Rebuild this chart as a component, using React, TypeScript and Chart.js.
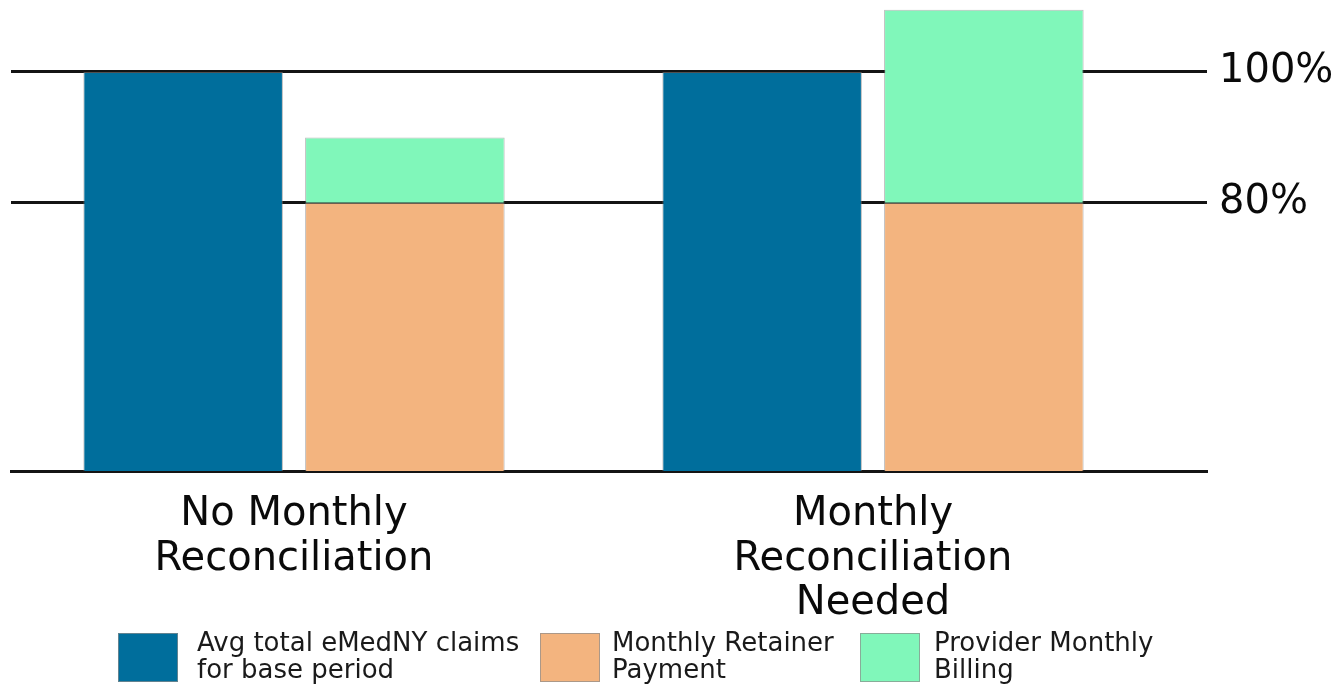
import { useEffect, useRef } from 'react';
import { Chart, registerables } from 'chart.js';

Chart.register(...registerables);

// ---- data ----
const categories: string[][] = [
  ['No Monthly', 'Reconciliation'],
  ['Monthly', 'Reconciliation', 'Needed'],
];
const categoryIndex = [0, 1];
const seriesNames: string[][] = [
  ['Avg total eMedNY claims', 'for base period'],
  ['Monthly Retainer', 'Payment'],
  ['Provider Monthly', 'Billing'],
];
const avgClaims = [100, 100];
const retainerPayment = [80, 80];
const providerBilling = [10, 29.5];
const yTickValues = [80, 100];
const yTickLabels = ['80%', '100%'];

// ---- styles ----
const FONT = '"DejaVu Sans", Verdana, sans-serif';
const BLUE = '#006E9C';
const ORANGE = '#F3B47F';
const GREEN = '#80F7BA';
const LINE = '#141414';

const legendX = [118, 540, 860];
const legendTextGap = [19, 12, 14];

const legendPlugin = {
  id: 'customLegend',
  afterDraw(chart: any) {
    const ctx = chart.ctx as CanvasRenderingContext2D;
    ctx.save();
    chart.data.datasets.forEach((ds: any, i: number) => {
      const x = legendX[i];
      const y = 633;
      ctx.fillStyle = ds.backgroundColor;
      ctx.fillRect(x, y, 60, 49);
      ctx.strokeStyle = 'rgba(140,140,140,0.7)';
      ctx.lineWidth = 1;
      ctx.strokeRect(x + 0.5, y + 0.5, 59, 48);
      ctx.fillStyle = '#1a1a1a';
      ctx.font = `26px ${FONT}`;
      ctx.textAlign = 'left';
      ctx.textBaseline = 'middle';
      seriesNames[i].forEach((line, j) => {
        ctx.fillText(line, x + 60 + legendTextGap[i], 644 + j * 27);
      });
    });
    ctx.restore();
  },
};

export default function App() {
  const canvasRef = useRef<HTMLCanvasElement | null>(null);

  useEffect(() => {
    document.body.style.margin = '0';
    const canvas = canvasRef.current;
    if (!canvas) return;
    const toPoints = (vals: number[]) => vals.map((v, i) => ({ x: categoryIndex[i], y: v }));
    const barStyle = {
      borderWidth: 1,
      borderColor: 'rgba(130,130,130,0.55)',
      categoryPercentage: 0.766,
      barPercentage: 0.9,
    };
    const chart = new Chart(canvas, {
      type: 'bar',
      data: {
        datasets: [
          { label: seriesNames[0].join(' '), data: toPoints(avgClaims), backgroundColor: BLUE, stack: 'a', ...barStyle },
          { label: seriesNames[1].join(' '), data: toPoints(retainerPayment), backgroundColor: ORANGE, stack: 'b', ...barStyle },
          { label: seriesNames[2].join(' '), data: toPoints(providerBilling), backgroundColor: GREEN, stack: 'b', ...barStyle },
        ] as any,
      },
      options: {
        animation: false,
        responsive: true,
        maintainAspectRatio: false,
        layout: { padding: { left: 11, right: 0, top: 0, bottom: 0 } },
        plugins: {
          legend: { display: false },
          tooltip: { enabled: false },
          title: { display: false },
        },
        scales: {
          x: {
            type: 'linear',
            offset: false,
            min: -0.4888,
            max: 1.5769,
            z: 1,
            grid: { display: false, drawTicks: false },
            border: { display: true, color: LINE, width: 3 },
            afterBuildTicks: (s: any) => {
              s.ticks = categoryIndex.map((v) => ({ value: v }));
            },
            afterFit: (s: any) => {
              s.height = 213;
              s.paddingLeft = 0;
              s.paddingRight = 0;
            },
            ticks: {
              autoSkip: false,
              maxRotation: 0,
              minRotation: 0,
              padding: 21,
              color: '#0a0a0a',
              font: { family: FONT, size: 40, lineHeight: 1.12 },
              callback: (v: any) => categories[Number(v)] ?? '',
            },
          },
          y: {
            type: 'linear',
            position: 'right',
            min: 39,
            max: 111,
            beginAtZero: false,
            stacked: true,
            z: 1,
            grid: { color: LINE, lineWidth: 3, drawTicks: false },
            border: { display: false },
            afterBuildTicks: (s: any) => {
              s.ticks = yTickValues.map((v) => ({ value: v }));
            },
            afterFit: (s: any) => {
              s.width = 137;
              s.paddingTop = 0;
              s.paddingBottom = 0;
            },
            ticks: {
              padding: 12,
              color: '#0a0a0a',
              font: { family: FONT, size: 40 },
              callback: (v: any) => yTickLabels[yTickValues.indexOf(Number(v))] ?? '',
            },
          },
        },
      },
      plugins: [legendPlugin],
    } as any);
    return () => chart.destroy();
  }, []);

  return (
    <div style={{ position: 'absolute', left: 0, top: 0, width: 1344, height: 684 }}>
      <canvas ref={canvasRef} />
    </div>
  );
}
